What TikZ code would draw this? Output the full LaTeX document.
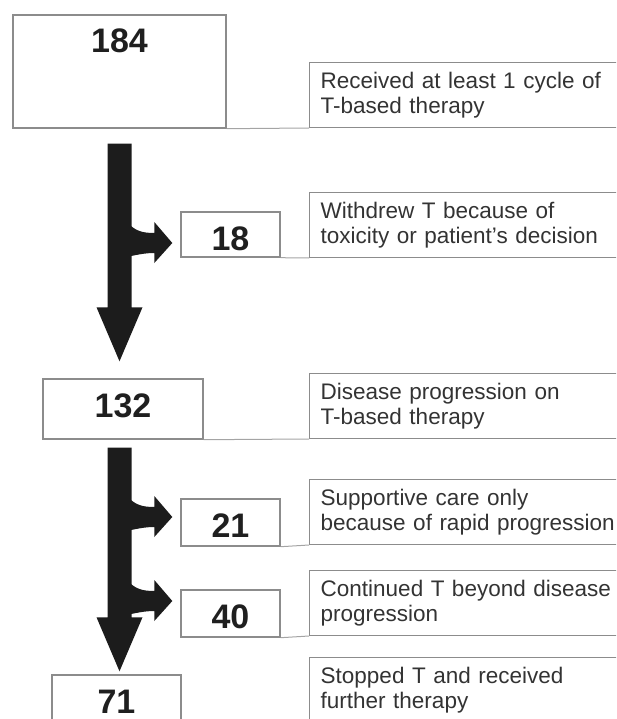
\documentclass[tikz,border=0pt]{standalone}
\usepackage{fontspec}
\setmainfont{Liberation Sans}
\usetikzlibrary{calc, positioning}
\definecolor{boxgray}{HTML}{8C8C8C}
\definecolor{linkgray}{HTML}{A4A4A4}
\definecolor{arrowblack}{HTML}{1C1C1C}
\definecolor{txtgray}{HTML}{333333}
\tikzset{
	flow/.style={x=1pt,y=-1pt},
	numbox/.style={
		rectangle,
		draw=boxgray, line width=1.4pt,
		inner sep=0pt, anchor=base,
		text=black!88,
		text height=38pt,
		font=\fontsize{34}{40}\selectfont\bfseries
	},
	txtbox/.style={
		rectangle,
		draw=boxgray, line width=1.4pt,
		anchor=south west,
		minimum width=360pt, minimum height=65pt,
		inner xsep=11pt, inner ysep=0pt,
		text width=338pt, align=left,
		text=txtgray,
		font=\fontsize{22.5}{25}\selectfont
	},
	link/.style={linkgray, line width=1pt},
	fat/.style={fill=arrowblack}
}
\newcommand{\bigarrow}[2]{%
	\fill[fat] ($(#1)+(-12,0)$) -- ($(#2)+(-12,-54)$) -- ($(#2)+(-23,-54)$) -- (#2)
		-- ($(#2)+(23,-54)$) -- ($(#2)+(12,-54)$) -- ($(#1)+(12,0)$) -- cycle;
}
\newcommand{\sidearrow}[1]{%
	\begin{scope}[shift={(#1)}]
		\fill[fat] (-46,-22) .. controls (-38,-12) and (-30,-10) .. (-18,-10) -- (-18,-21) -- (0,0)
			-- (-18,20) -- (-18,10) .. controls (-28,10) and (-36,12) .. (-46,14) -- cycle;
	\end{scope}
}

\begin{document}
\begin{tikzpicture}[flow]
	\useasboundingbox (0,0) rectangle (616,719);
	\clip (0,0) rectangle (616,719);
	\node[numbox, text depth=75pt, minimum width=213pt]	(n184)	at (119.5,53)	{184};
	\node[numbox, text depth=7pt, minimum width=99pt]	(n18)	at (230.5,250)	{18};
	\node[numbox, text depth=22pt, minimum width=160pt]	(n132)	at (123,417)	{132};
	\node[numbox, text depth=9pt, minimum width=99pt]	(n21)	at (230.5,537)	{21};
	\node[numbox, text depth=9pt, minimum width=99pt]	(n40)	at (230.5,628)	{40};
	\node[numbox, text depth=60pt, minimum width=129pt]	(n71)	at (116.5,713)	{71};
	\node[txtbox]	(t1)	at (309,128)	{Received at least 1 cycle of\\T-based therapy};
	\node[txtbox]	(t2)	at (309,258)	{Withdrew T because of\\toxicity or patient's decision};
	\node[txtbox]	(t3)	at (309,439)	{Disease progression on\\T-based therapy};
	\node[txtbox]	(t4)	at (309,545)	{Supportive care only\\because of rapid progression};
	\node[txtbox]	(t5)	at (309,636)	{Continued T beyond disease\\progression};
	\node[txtbox, anchor=north west]	(t6)	at (309,657)	{Stopped T and received\\further therapy};
	\draw[link]	(n184.south east)--(t1.south west);
	\draw[link]	(n18.south east)--(t2.south west);
	\draw[link]	(n132.south east)--(t3.south west);
	\draw[link]	(n21.south east)--(t4.south west);
	\draw[link]	(n40.south east)--(t5.south west);
	\coordinate	(top1)	at ($(n184.south)+(0,15)$);
	\coordinate	(tip1)	at ($(n132.north -| n184.south)+(0,-17)$);
	\coordinate	(top2)	at ($(n132.south -| n184.south)+(0,8)$);
	\coordinate	(tip2)	at ($(n71.north -| n184.south)+(0,-3)$);
	\coordinate	(b18)	at ($(n18.west)+(-8,8.5)$);
	\coordinate	(b21)	at ($(n21.west)+(-8,-5.5)$);
	\coordinate	(b40)	at ($(n40.west)+(-8,-12.5)$);
	\bigarrow{top1}{tip1}
	\bigarrow{top2}{tip2}
	\sidearrow{b18}
	\sidearrow{b21}
	\sidearrow{b40}
\end{tikzpicture}
\end{document}
